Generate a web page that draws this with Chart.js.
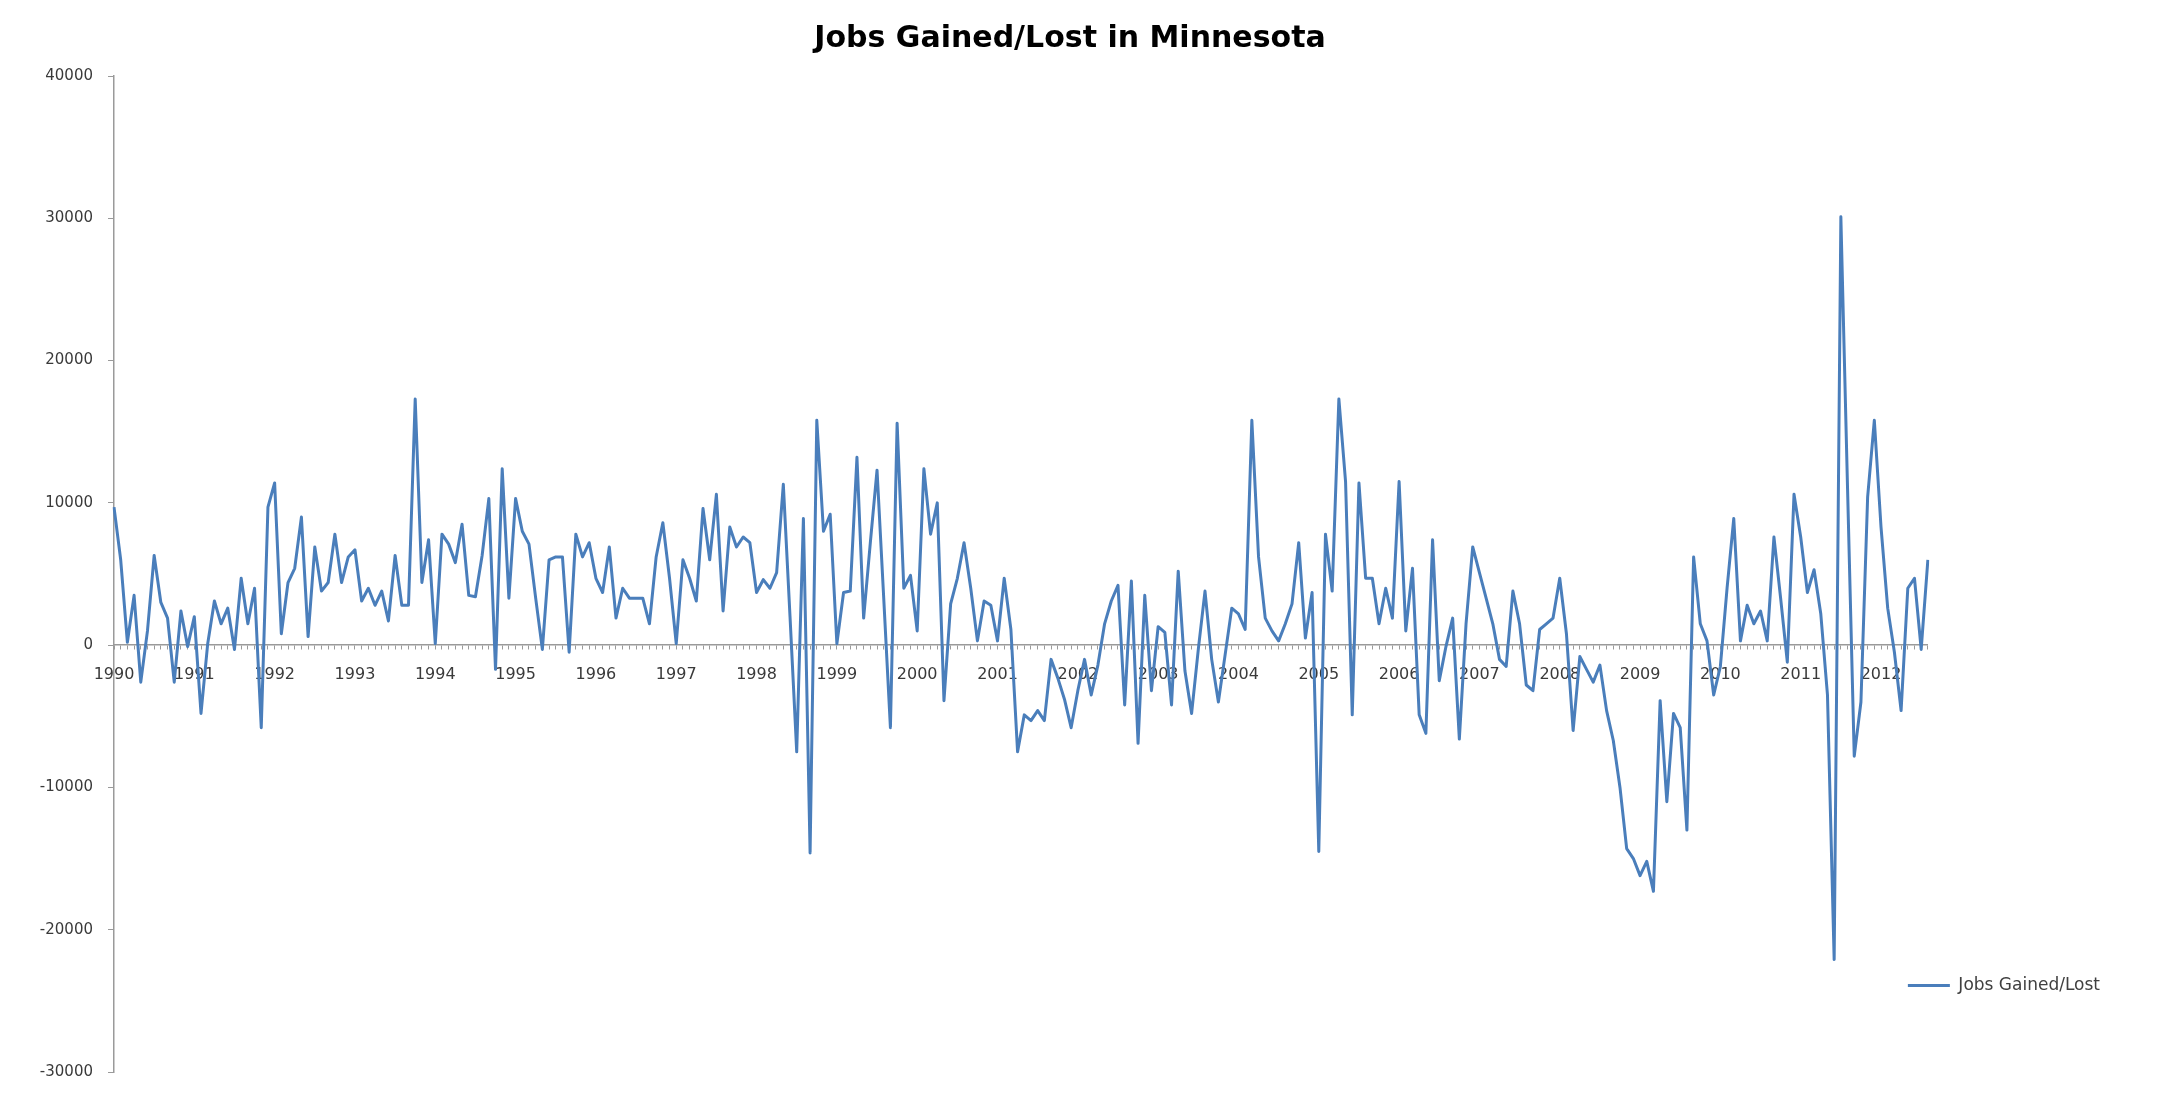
<!DOCTYPE html>
<html>
<head>
<meta charset="utf-8">
<title>Jobs Gained/Lost in Minnesota</title>
<script src="https://cdn.jsdelivr.net/npm/chart.js@4.4.1/dist/chart.umd.min.js"></script>
<style>
    html, body { margin: 0; padding: 0; background: #fff; }
    .chart-wrap { position: relative; width: 2160px; height: 1101px; }
</style>
</head>
<body>
<div class="chart-wrap"><canvas id="jobsChart"></canvas></div>
<script>
// Monthly net jobs gained/lost, Jan 1990 - Aug 2012 (one row per year)
const jobs = [
    9700, 6000, 200, 3500, -2600, 1000, 6300, 3000, 1900, -2600, 2400, -100,
    2000, -4800, 100, 3100, 1500, 2600, -300, 4700, 1500, 4000, -5800, 9700,
    11400, 800, 4400, 5400, 9000, 600, 6900, 3800, 4400, 7800, 4400, 6200,
    6700, 3100, 4000, 2800, 3800, 1700, 6300, 2800, 2800, 17300, 4400, 7400,
    100, 7800, 7100, 5800, 8500, 3500, 3400, 6300, 10300, -1700, 12400, 3300,
    10300, 8000, 7100, 3300, -300, 6000, 6200, 6200, -500, 7800, 6200, 7200,
    4700, 3700, 6900, 1900, 4000, 3300, 3300, 3300, 1500, 6200, 8600, 4700,
    100, 6000, 4700, 3100, 9600, 6000, 10600, 2400, 8300, 6900, 7600, 7200,
    3700, 4600, 4000, 5100, 11300, 2000, -7500, 8900, -14600, 15800, 8000, 9200,
    100, 3700, 3800, 13200, 1900, 7200, 12300, 3300, -5800, 15600, 4000, 4900,
    1000, 12400, 7800, 10000, -3900, 2900, 4700, 7200, 4000, 300, 3100, 2800,
    300, 4700, 1100, -7500, -4900, -5300, -4600, -5300, -1000, -2300, -3800, -5800,
    -3200, -1000, -3500, -1400, 1500, 3100, 4200, -4200, 4500, -6900, 3500, -3200,
    1300, 900, -4200, 5200, -1800, -4800, -300, 3800, -1000, -4000, -700, 2600,
    2200, 1100, 15800, 6200, 1900, 1000, 300, 1500, 2900, 7200, 500, 3700,
    -14500, 7800, 3800, 17300, 11500, -4900, 11400, 4700, 4700, 1500, 4000, 1900,
    11500, 1000, 5400, -4900, -6200, 7400, -2500, -100, 1900, -6600, 1500, 6900,
    5100, 3300, 1500, -1000, -1500, 3800, 1500, -2800, -3200, 1100, 1500, 1900,
    4700, 800, -6000, -800, -1700, -2600, -1400, -4600, -6700, -10000, -14300, -15000,
    -16200, -15200, -17300, -3900, -11000, -4800, -5800, -13000, 6200, 1500, 300, -3500,
    -1500, 4000, 8900, 300, 2800, 1500, 2400, 300, 7600, 3300, -1200, 10600,
    7600, 3700, 5300, 2200, -3500, -22100, 30100, 11000, -7800, -4000, 10400, 15800,
    8300, 2600, -500, -4600, 4000, 4700, -300, 6000
];

const years = [1990, 1991, 1992, 1993, 1994, 1995, 1996, 1997, 1998, 1999, 2000, 2001,
               2002, 2003, 2004, 2005, 2006, 2007, 2008, 2009, 2010, 2011, 2012];
const months = ['Jan', 'Feb', 'Mar', 'Apr', 'May', 'Jun', 'Jul', 'Aug', 'Sep', 'Oct', 'Nov', 'Dec'];
const yTicks = [-30000, -20000, -10000, 0, 10000, 20000, 30000, 40000];

const seriesLabel = 'Jobs Gained/Lost';
const chartTitle = 'Jobs Gained/Lost in Minnesota';

document.addEventListener('DOMContentLoaded', () => {

    Chart.defaults.font.family = "'DejaVu Sans', sans-serif";
    Chart.defaults.color = '#404040';

    const lineColor = '#4a7ebb';
    const axisGray = '#9a9a9a';

    // one category per month, year shown only on January
    const labels = jobs.map((_, i) => `${months[i % 12]} ${years[Math.floor(i / 12)]}`);

    // moves the legend down/left next to the plot like the Excel original
    const legendNudge = {
        id: 'legendNudge',
        afterLayout(chart, args, opts) {
            const lg = chart.legend;
            if (!lg) return;
            lg.left += opts.x;
            lg.right += opts.x;
            lg.top += opts.y;
            lg.bottom += opts.y;
        }
    };

    const ctx = document.getElementById('jobsChart').getContext('2d');
    new Chart(ctx, {
        type: 'line',
        data: {
            labels: labels,
            datasets: [{
                label: seriesLabel,
                data: jobs,
                borderColor: lineColor,
                backgroundColor: lineColor,
                borderWidth: 3,
                borderJoinStyle: 'round',
                tension: 0,
                fill: false,
                pointRadius: 0
            }]
        },
        options: {
            responsive: true,
            maintainAspectRatio: false,
            animation: false,
            layout: { padding: { top: 0, right: 20, bottom: 29, left: 0 } },
            plugins: {
                title: {
                    display: true,
                    text: chartTitle,
                    color: '#000',
                    font: { size: 30, weight: 'bold' },
                    padding: { top: 21, bottom: 19 }
                },
                legend: {
                    position: 'right',
                    align: 'end',
                    labels: {
                        usePointStyle: true,
                        pointStyle: 'line',
                        pointStyleWidth: 42,
                        color: '#404040',
                        font: { size: 17 },
                        padding: 10
                    }
                },
                legendNudge: { x: -30, y: -68 },
                tooltip: { enabled: false }
            },
            scales: {
                x: {
                    type: 'category',
                    axis: 'x',
                    position: { y: 0 },
                    offset: false,
                    grid: { drawOnChartArea: false, drawTicks: true, tickLength: 4, color: axisGray },
                    border: { display: true, color: axisGray, width: 1.5 },
                    ticks: {
                        autoSkip: false,
                        maxRotation: 0,
                        minRotation: 0,
                        padding: 16,
                        color: '#3a3a3a',
                        font: { size: 16 },
                        callback: (value, index) => index % 12 === 0 ? String(years[index / 12]) : ''
                    }
                },
                y: {
                    min: yTicks[0],
                    max: yTicks[yTicks.length - 1],
                    grid: { drawOnChartArea: false, drawTicks: true, tickLength: 6, color: axisGray },
                    border: { display: true, color: axisGray, width: 1.5 },
                    ticks: {
                        stepSize: yTicks[1] - yTicks[0],
                        padding: 15,
                        color: '#3a3a3a',
                        font: { size: 15 },
                        callback: (value) => String(value)
                    },
                    afterFit: (scale) => { scale.width = 114; }
                }
            }
        },
        plugins: [legendNudge]
    });

});
</script>
</body>
</html>
